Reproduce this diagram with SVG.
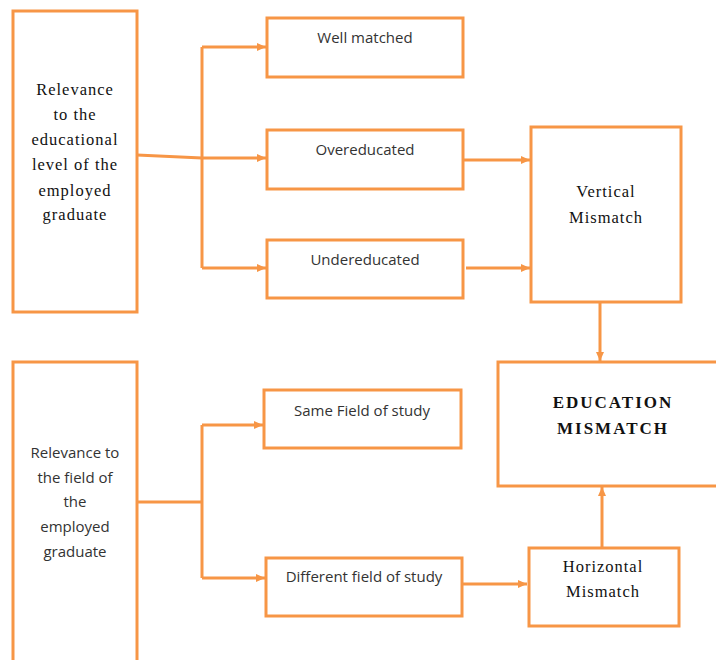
<svg xmlns="http://www.w3.org/2000/svg" width="716" height="660" viewBox="0 0 716 660">
<defs>
<marker id="ah" markerWidth="10" markerHeight="10" refX="9" refY="5" orient="auto" markerUnits="userSpaceOnUse">
<path d="M0,1 L9,5 L0,9 Z" fill="#F79646"/>
</marker>
</defs>
<style>
.box{fill:#fff;stroke:#F79646;stroke-width:3}
.ln{fill:none;stroke:#F79646;stroke-width:3}
.arr{fill:none;stroke:#F79646;stroke-width:3;marker-end:url(#ah)}
.serif{font-family:"Liberation Serif","Times New Roman",serif;font-size:16.5px;letter-spacing:1px;fill:#111;text-anchor:middle}
.sans{font-family:"Open Sans","Liberation Sans",sans-serif;font-size:15px;fill:#333;text-anchor:middle}
.bold{font-family:"Liberation Serif","Times New Roman",serif;font-size:17px;font-weight:bold;fill:#111;text-anchor:middle;letter-spacing:2px}
</style>
<rect width="716" height="660" fill="#fff"/>
<g id="connectors">
<path class="ln" d="M137,155 L202,158"/>
<path class="ln" d="M202,47 L202,268"/>
<path class="arr" d="M202,47 L266,47"/>
<path class="arr" d="M202,158 L266,158"/>
<path class="arr" d="M202,268 L266,268"/>
<path class="arr" d="M463,160 L530,160"/>
<path class="arr" d="M466,268 L530,268"/>
<path class="arr" d="M600,302 L600,361"/>
<path class="ln" d="M137,502 L202,502"/>
<path class="ln" d="M202,425 L202,578"/>
<path class="arr" d="M202,425 L263,425"/>
<path class="arr" d="M202,578 L265,578"/>
<path class="arr" d="M462,584 L527,584"/>
<path class="arr" d="M602,547 L602,487"/>
</g>
<g id="level">
<rect class="box" x="13" y="11" width="124" height="301"/>
<text class="serif" x="75" y="95">Relevance</text>
<text class="serif" x="75" y="120">to the</text>
<text class="serif" x="75" y="145">educational</text>
<text class="serif" x="75" y="170">level of the</text>
<text class="serif" x="75" y="196">employed</text>
<text class="serif" x="75" y="220">graduate</text>
</g>
<g id="well">
<rect class="box" x="267" y="18" width="196" height="59"/>
<text class="sans" x="365" y="43">Well matched</text>
</g>
<g id="over">
<rect class="box" x="267" y="130" width="196" height="59"/>
<text class="sans" x="365" y="155">Overeducated</text>
</g>
<g id="under">
<rect class="box" x="267" y="240" width="196" height="58"/>
<text class="sans" x="365" y="265">Undereducated</text>
</g>
<g id="vertical">
<rect class="box" x="531" y="127" width="150" height="175"/>
<text class="serif" x="606" y="197">Vertical</text>
<text class="serif" x="606" y="223">Mismatch</text>
</g>
<g id="education">
<rect class="box" x="498" y="362" width="222" height="124"/>
<text class="bold" x="613" y="408">EDUCATION</text>
<text class="bold" x="613" y="434">MISMATCH</text>
</g>
<g id="field">
<rect class="box" x="13" y="362" width="124" height="310"/>
<text class="sans" x="75" y="458">Relevance to</text>
<text class="sans" x="75" y="483">the field of</text>
<text class="sans" x="75" y="507">the</text>
<text class="sans" x="75" y="532">employed</text>
<text class="sans" x="75" y="557">graduate</text>
</g>
<g id="same">
<rect class="box" x="264" y="390" width="197" height="58"/>
<text class="sans" x="362" y="416">Same Field of study</text>
</g>
<g id="different">
<rect class="box" x="266" y="558" width="196" height="58"/>
<text class="sans" x="364" y="582">Different field of study</text>
</g>
<g id="horizontal">
<rect class="box" x="529" y="548" width="150" height="78"/>
<text class="serif" x="603" y="572">Horizontal</text>
<text class="serif" x="603" y="597">Mismatch</text>
</g>
</svg>
